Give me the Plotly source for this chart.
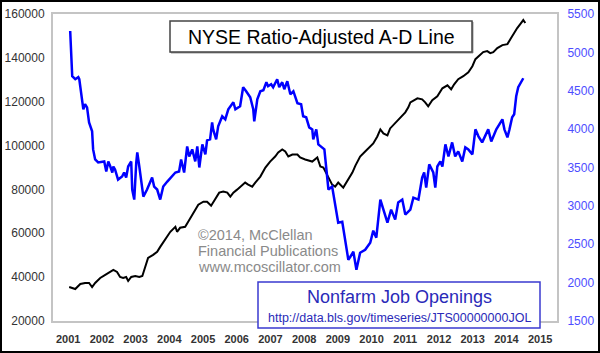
import plotly.graph_objects as go

# NYSE Ratio-Adjusted A-D Line (left axis)
ad_years = [2001.03, 2001.21, 2001.36, 2001.50, 2001.62, 2001.71, 2001.80, 2001.95, 2002.10, 2002.25,
            2002.34, 2002.45, 2002.54, 2002.63, 2002.72, 2002.78, 2002.87, 2002.99, 2003.11, 2003.20,
            2003.28, 2003.37, 2003.52, 2003.64, 2003.73, 2003.88, 2004.03, 2004.18, 2004.23, 2004.32,
            2004.47, 2004.56, 2004.71, 2004.86, 2005.01, 2005.12, 2005.24, 2005.36, 2005.48, 2005.60,
            2005.72, 2005.81, 2005.90, 2006.01, 2006.16, 2006.25, 2006.34, 2006.46, 2006.55, 2006.70,
            2006.85, 2006.99, 2007.14, 2007.23, 2007.35, 2007.44, 2007.53, 2007.65, 2007.80, 2007.88,
            2008.03, 2008.24, 2008.39, 2008.48, 2008.57, 2008.69, 2008.83, 2008.92, 2009.01, 2009.16,
            2009.31, 2009.43, 2009.52, 2009.66, 2009.81, 2009.96, 2010.05, 2010.17, 2010.26, 2010.35,
            2010.47, 2010.55, 2010.70, 2010.79, 2010.91, 2011.00, 2011.09, 2011.15, 2011.36, 2011.50,
            2011.59, 2011.68, 2011.80, 2011.95, 2012.10, 2012.25, 2012.36, 2012.45, 2012.57, 2012.72,
            2012.87, 2012.99, 2013.08, 2013.23, 2013.31, 2013.43, 2013.52, 2013.61, 2013.73, 2013.88,
            2014.03, 2014.12, 2014.20, 2014.32, 2014.41, 2014.50, 2014.56]
ad_values = [35500, 34590, 36880, 37340, 37340, 35510, 37340, 39620, 41000, 42370,
             43290, 42370, 40080, 39620, 40080, 38250, 40080, 40540, 40080, 40540,
             44660, 48780, 50150, 51520, 53810, 57020, 60680, 62970, 60680, 62510,
             62970, 65260, 69380, 73040, 74410, 74410, 72580, 75330, 78530, 78990,
             78530, 76700, 78530, 79900, 82190, 83110, 82190, 81280, 83110, 85850,
             89970, 92720, 95010, 96840, 98210, 97300, 95010, 95920, 95920, 94550,
             93630, 92720, 94550, 90430, 89970, 86310, 82190, 81280, 83110, 80820,
             84480, 87680, 90880, 95010, 97300, 99580, 100960, 104160, 107360, 105530,
             104620, 107820, 110110, 111940, 113310, 115150, 117430, 119720, 121550, 121100,
             119720, 117890, 120640, 122470, 126130, 127500, 125670, 127960, 130250, 131620,
             133450, 136200, 139400, 141230, 142610, 143070, 142150, 142610, 144440, 145810,
             146270, 148560, 150850, 153590, 155420, 157250, 155880]

# Nonfarm Job Openings, thousands (right axis)
jo_years = [2001.06, 2001.09, 2001.12, 2001.21, 2001.30, 2001.33, 2001.42, 2001.45, 2001.50, 2001.56,
            2001.62, 2001.71, 2001.74, 2001.80, 2001.89, 2002.01, 2002.07, 2002.13, 2002.19, 2002.25,
            2002.31, 2002.34, 2002.39, 2002.48, 2002.60, 2002.66, 2002.72, 2002.78, 2002.87, 2002.90,
            2002.96, 2003.02, 2003.05, 2003.11, 2003.23, 2003.34, 2003.40, 2003.49, 2003.55, 2003.64,
            2003.73, 2003.82, 2003.94, 2004.06, 2004.18, 2004.29, 2004.35, 2004.44, 2004.53, 2004.59,
            2004.68, 2004.77, 2004.83, 2004.89, 2004.98, 2005.07, 2005.12, 2005.21, 2005.27, 2005.30,
            2005.39, 2005.45, 2005.57, 2005.66, 2005.75, 2005.90, 2005.96, 2006.10, 2006.19, 2006.28,
            2006.40, 2006.49, 2006.52, 2006.61, 2006.70, 2006.79, 2006.88, 2006.93, 2007.02, 2007.08,
            2007.20, 2007.26, 2007.35, 2007.41, 2007.50, 2007.59, 2007.68, 2007.80, 2007.91, 2007.97,
            2008.06, 2008.15, 2008.24, 2008.27, 2008.36, 2008.42, 2008.54, 2008.60, 2008.66, 2008.72,
            2008.83, 2008.92, 2009.01, 2009.13, 2009.22, 2009.31, 2009.37, 2009.46, 2009.55, 2009.66,
            2009.81, 2009.96, 2010.05, 2010.14, 2010.26, 2010.38, 2010.47, 2010.58, 2010.70, 2010.79,
            2010.91, 2011.00, 2011.15, 2011.24, 2011.39, 2011.50, 2011.56, 2011.62, 2011.71, 2011.83,
            2011.89, 2011.95, 2012.04, 2012.10, 2012.19, 2012.28, 2012.39, 2012.48, 2012.57, 2012.69,
            2012.78, 2012.87, 2012.99, 2013.08, 2013.17, 2013.28, 2013.37, 2013.46, 2013.55, 2013.61,
            2013.70, 2013.79, 2013.88, 2013.94, 2014.03, 2014.09, 2014.17, 2014.23, 2014.29, 2014.35,
            2014.44, 2014.50]
jo_values = [5278, 5003, 4690, 4650, 4677, 4650, 4389, 4258, 4324, 4284,
             4088, 3971, 3736, 3605, 3566, 3579, 3579, 3448, 3579, 3513,
             3435, 3513, 3474, 3343, 3383, 3435, 3370, 3513, 3579, 3213,
             3082, 3566, 3696, 3513, 3121, 3213, 3278, 3370, 3252, 3213,
             3082, 3252, 3317, 3383, 3435, 3448, 3605, 3435, 3775, 3644,
             3736, 3579, 3775, 3500, 3801, 3670, 3853, 3866, 4088, 3997,
             3866, 4036, 4167, 4128, 4258, 4350, 4258, 4298, 4546, 4494,
             4415, 4258, 4101, 4389, 4494, 4507, 4611, 4559, 4585, 4546,
             4650, 4546, 4611, 4520, 4624, 4454, 4494, 4337, 4324, 4167,
             4154, 4023, 3997, 3866, 3997, 3801, 3762, 3736, 3474, 3213,
             3252, 3043, 2781, 2794, 2559, 2298, 2337, 2402, 2167, 2389,
             2428, 2520, 2677, 2585, 3082, 2912, 2781, 2951, 2821, 3043,
             3082, 2886, 2951, 3108, 3082, 3370, 3435, 3239, 3540, 3435,
             3239, 3513, 3579, 3513, 3801, 3644, 3827, 3644, 3710, 3579,
             3762, 3736, 3670, 3997, 3906, 3827, 3906, 3997, 3840, 3906,
             3997, 4062, 4128, 3997, 3892, 3997, 4154, 4193, 4428, 4546,
             4624, 4663]

x_ticks = list(range(2001, 2016))
left_ticks = [20000, 40000, 60000, 80000, 100000, 120000, 140000, 160000]
right_ticks = [1500, 2000, 2500, 3000, 3500, 4000, 4500, 5000, 5500]

FONT = "Liberation Sans, Arial, sans-serif"

fig = go.Figure()
fig.add_trace(go.Scatter(x=ad_years, y=ad_values, mode="lines",
                         line=dict(color="#000000", width=2), yaxis="y"))
fig.add_trace(go.Scatter(x=jo_years, y=jo_values, mode="lines",
                         line=dict(color="#0000ff", width=2.5), yaxis="y2"))

L, R, T, B = 53, 43, 14, 32
W, H = 600, 353
pw, ph = W - L - R, H - T - B

def px(xp):
    return (xp - L) / pw

def py(yp):
    return 1 - (yp - T) / ph

fig.update_layout(
    width=W, height=H,
    margin=dict(l=L, r=R, t=T, b=B, autoexpand=False),
    paper_bgcolor="#ffffff",
    plot_bgcolor="#ffffff",
    showlegend=False,
    font=dict(family=FONT),
    xaxis=dict(range=[2000.55, 2015.5], tickvals=x_ticks, ticktext=[str(v) for v in x_ticks],
               showgrid=False, zeroline=False, showline=True, linecolor="#c4c4c4", linewidth=2,
               mirror=True, ticks="outside", ticklen=7, tickcolor="rgba(0,0,0,0)",
               tickfont=dict(size=11, color="#333333", weight="bold"),
               automargin=False, fixedrange=True),
    yaxis=dict(range=[20000, 160000], tickvals=left_ticks, ticktext=[str(v) for v in left_ticks],
               showgrid=False, zeroline=False, showline=True, linecolor="#c4c4c4", linewidth=2,
               mirror=True, ticks="outside", ticklen=4, tickcolor="rgba(0,0,0,0)",
               tickfont=dict(size=12, color="#333333"), automargin=False),
    yaxis2=dict(range=[1500, 5500], tickvals=right_ticks, ticktext=[str(v) for v in right_ticks],
                overlaying="y", side="right", showgrid=False, zeroline=False, showline=False,
                ticks="outside", ticklen=7, tickcolor="rgba(0,0,0,0)",
                tickfont=dict(size=12, color="#4d4dff"), automargin=False),
)

shapes = [
    # outer frame
    dict(type="rect", xref="paper", yref="paper", x0=px(1), x1=px(W - 1), y0=py(H - 1), y1=py(1),
         line=dict(color="#000000", width=2), fillcolor="rgba(0,0,0,0)", layer="above"),
    # title box shadow & box
    dict(type="rect", xref="paper", yref="paper", x0=px(171), x1=px(473), y0=py(53), y1=py(22),
         line=dict(color="#9a9a9a", width=1), fillcolor="#9a9a9a", layer="above"),
    dict(type="rect", xref="paper", yref="paper", x0=px(170), x1=px(472), y0=py(52), y1=py(21),
         line=dict(color="#444444", width=1.5), fillcolor="#ffffff", layer="above"),
    # nonfarm box
    dict(type="rect", xref="paper", yref="paper", x0=px(258), x1=px(540), y0=py(328), y1=py(282),
         line=dict(color="#3a3ad0", width=1.5), fillcolor="#ffffff", layer="above"),
]

credit_lines = ["©2014, McClellan", "Financial Publications", "www.mcoscillator.com"]
credit_y = [235, 251, 267]

annotations = [
    dict(text="NYSE Ratio-Adjusted A-D Line", x=px(321), y=py(37), xref="paper", yref="paper",
         showarrow=False, font=dict(size=19.5, color="#000000"), xanchor="center", yanchor="middle"),
    dict(text="Nonfarm Job Openings", x=px(399), y=py(297), xref="paper", yref="paper",
         showarrow=False, font=dict(size=18, color="#2a2ab8"), xanchor="center", yanchor="middle"),
    dict(text="http://data.bls.gov/timeseries/JTS00000000JOL", x=px(399), y=py(318), xref="paper",
         yref="paper", showarrow=False, font=dict(size=12.5, color="#2a2ab8"),
         xanchor="center", yanchor="middle"),
]
for t, yy in zip(credit_lines, credit_y):
    annotations.append(dict(text=t, x=px(196), y=py(yy), xref="paper", yref="paper",
                            showarrow=False, xanchor="left", yanchor="middle",
                            font=dict(size=14.5, color="#8a8a8a")))

fig.update_layout(shapes=shapes, annotations=annotations)

fig.write_html("out.html", config={"displayModeBar": False})
